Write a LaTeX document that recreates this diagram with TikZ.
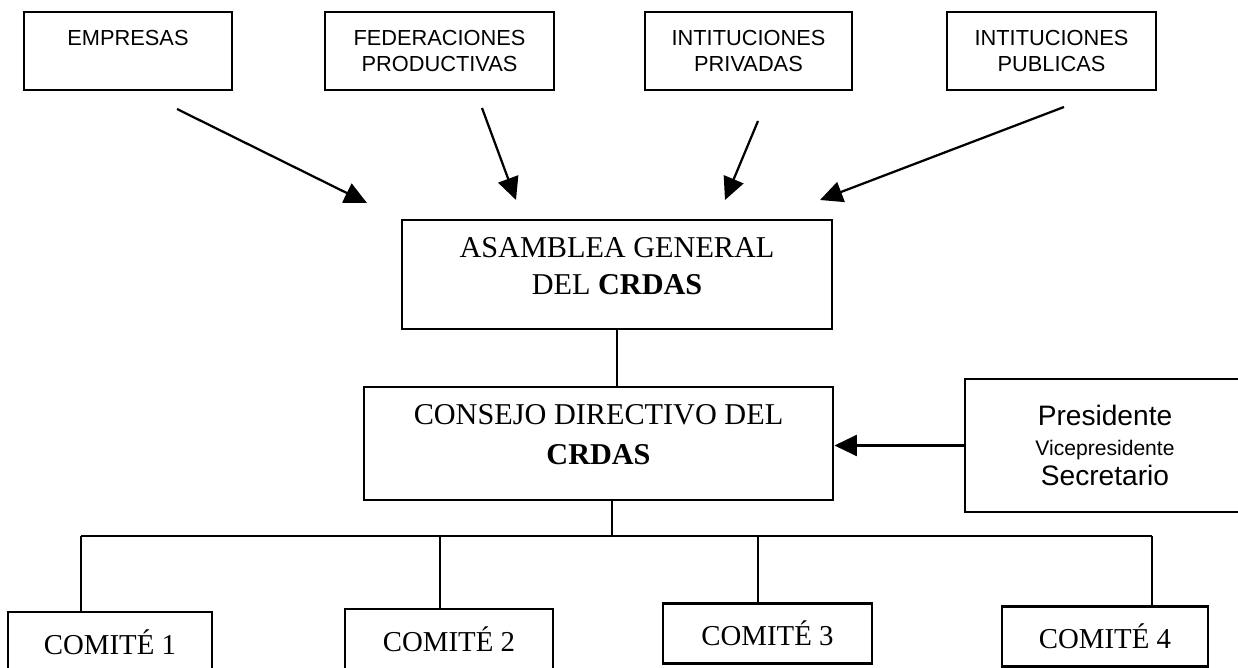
\documentclass[tikz,border=0pt]{standalone}
\usepackage{fontspec}
\setmainfont{Liberation Serif}
\setsansfont{Liberation Sans}
\usetikzlibrary{positioning,arrows.meta}

\begin{document}
\begin{tikzpicture}[x=0.025cm, y=-0.025cm,
orgbox/.style={draw, line width=2pt, inner sep=0pt},
topbox/.style={orgbox, minimum height=1.95cm, align=center,
  font=\sffamily\fontsize{15.5}{18.5}\selectfont},
midtext/.style={align=center, font=\fontsize{21.5}{26}\selectfont},
comite/.style={orgbox, minimum height=1.5cm, font=\fontsize{20.5}{24}\selectfont},
arrow/.style={line width=1.6pt, -{Triangle[length=16pt, width=15pt]}},
link/.style={line width=1.4pt}]
  \useasboundingbox (0,0) rectangle (1238,668);

  % 4 top boxes
  \node[topbox, minimum width=5.2cm]   (emp)   at (128,51)    {EMPRESAS\\\phantom{EMPRESAS}};
  \node[topbox, minimum width=5.725cm] (fed)   at (439.5,51)  {FEDERACIONES\\PRODUCTIVAS};
  \node[topbox, minimum width=5.175cm] (ipriv) at (748.5,51)  {INTITUCIONES\\PRIVADAS};
  \node[topbox, minimum width=5.225cm] (ipub)  at (1051.5,51) {INTITUCIONES\\PUBLICAS};

  % assembly and board
  \node[orgbox, minimum width=10.75cm, minimum height=2.725cm] (asam) at (617,274.5) {};
  \node[midtext] (asamtext) at (617,266) {ASAMBLEA GENERAL\\DEL \textbf{CRDAS}};
  \node[orgbox, minimum width=11.725cm, minimum height=2.825cm] (cons) at (598.5,443.5) {};
  \node[midtext, font=\fontsize{21.5}{28.5}\selectfont] (constext) at (598.5,435) {CONSEJO DIRECTIVO DEL\\\textbf{CRDAS}};
  \node[orgbox, minimum width=7cm, minimum height=3.325cm, align=center,
    font=\sffamily\fontsize{20}{21.5}\selectfont] (pres) at (1105,445.5)
    {Presidente\\{\fontsize{15}{21.5}\selectfont Vicepresidente}\\Secretario};

  % 4 committees
  \node[comite, minimum width=5.1cm]   (c1) at (110,642)    {COMITÉ 1};
  \node[comite, minimum width=5.2cm]   (c2) at (449,639)    {COMITÉ 2};
  \node[comite, minimum width=5.225cm] (c3) at (767.5,633.5) {COMITÉ 3};
  \node[comite, minimum width=5.15cm]  (c4) at (1105,636.5) {COMITÉ 4};

  % arrow ends
  \coordinate (emp-out)   at (177,109);
  \coordinate (fed-out)   at (482,108);
  \coordinate (ipriv-out) at (758,121);
  \coordinate (ipub-out)  at (1064,107);
  \coordinate (asam-in1)  at (367,203);
  \coordinate (asam-in2)  at (516,200);
  \coordinate (asam-in3)  at (725,200);
  \coordinate (asam-in4)  at (820,200);

\foreach \from/\to in {emp-out/asam-in1,fed-out/asam-in2,ipriv-out/asam-in3,ipub-out/asam-in4}
    \draw[arrow] (\from) -- (\to);

  \draw[link] (asam.south) -- (asam.south |- cons.north);
  \draw[arrow] (pres.west) -- (pres.west -| cons.east);

  % tree to committees
  \coordinate (stem) at (612,536);
  \coordinate (d1) at (81,536);
  \coordinate (d2) at (440,536);
  \coordinate (d3) at (758,536);
  \coordinate (d4) at (1152,536);
  \draw[link] (stem |- cons.south) -- (stem);
  \draw[link] (d1) -- (d4);
\foreach \drop/\to in {d1/c1,d2/c2,d3/c3,d4/c4}
    \draw[link] (\drop) -- (\drop |- \to.north);
\end{tikzpicture}
\end{document}
